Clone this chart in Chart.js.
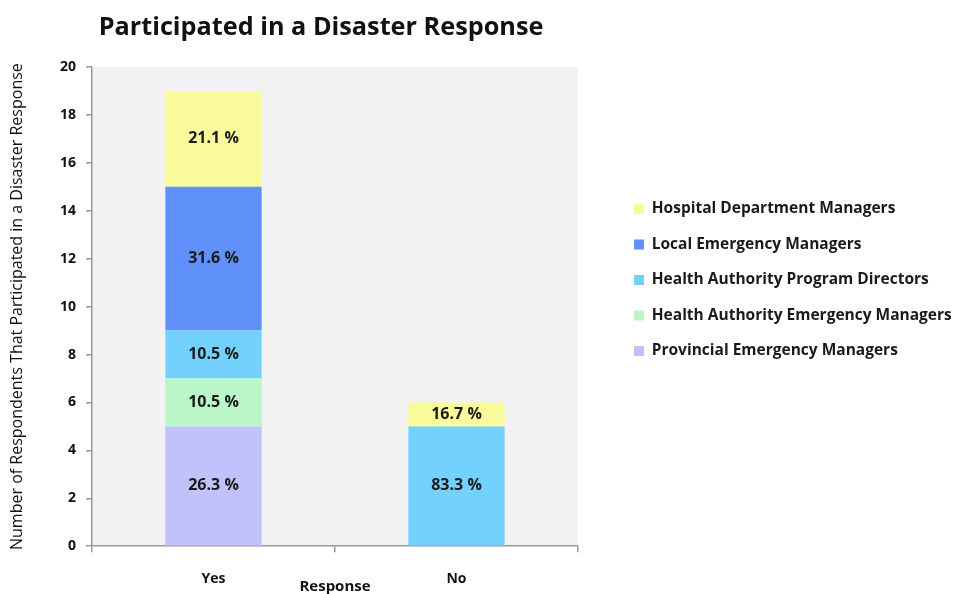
<!DOCTYPE html>
<html>
<head>
<meta charset="utf-8">
<script src="https://cdn.jsdelivr.net/npm/chart.js@4.4.1/dist/chart.umd.min.js"></script>
<style>
  html, body { margin: 0; padding: 0; background: #ffffff; }
  #wrap { width: 953px; height: 594px; }
</style>
</head>
<body>
<div id="wrap"><canvas id="chart" width="953" height="594"></canvas></div>
<script>
// Response categories on the x axis
const categories = ['Yes', 'No'];

// Respondent counts per group, one value per category (bottom of stack first)
const provincialEmergencyManagers = [5, 0];
const healthAuthorityEmergencyManagers = [2, 0];
const healthAuthorityProgramDirectors = [2, 5];
const localEmergencyManagers = [6, 0];
const hospitalDepartmentManagers = [4, 1];

const seriesNames = [
  'Provincial Emergency Managers',
  'Health Authority Emergency Managers',
  'Health Authority Program Directors',
  'Local Emergency Managers',
  'Hospital Department Managers'
];
const seriesValues = [
  provincialEmergencyManagers,
  healthAuthorityEmergencyManagers,
  healthAuthorityProgramDirectors,
  localEmergencyManagers,
  hospitalDepartmentManagers
];
const seriesColors = ['#c1c1fb', '#bbf6c9', '#72d1fd', '#6090f9', '#fafa9b'];

const yTicks = [0, 2, 4, 6, 8, 10, 12, 14, 16, 18, 20];

const FONT = '"Open Sans", "DejaVu Sans", sans-serif';
const LEGEND_FONT_SIZE = 15.5;
const LEGEND_BOX = 10;
const LEGEND_PAD = 20;
const PLOT_RIGHT = 578;      // right edge of the plotting area
const LEGEND_ITEM_X = 634;   // x of the legend colour boxes

// Totals per category, used for the percentage labels
const totals = categories.map((_, i) => seriesValues.reduce((s, arr) => s + arr[i], 0));

// Width the legend will claim, so the plot can end at PLOT_RIGHT
const measureCtx = document.createElement('canvas').getContext('2d');
measureCtx.font = 'bold ' + LEGEND_FONT_SIZE + 'px ' + FONT;
const widestLabel = Math.max(...seriesNames.map(n => measureCtx.measureText(n).width));
const legendWidth = LEGEND_PAD * 1.5 + LEGEND_BOX + LEGEND_FONT_SIZE / 2 + widestLabel;
const rightPadding = Math.max(0, 953 - PLOT_RIGHT - legendWidth);

// Light grey fill behind the plotting area
const plotBackground = {
  id: 'plotBackground',
  beforeDraw(chart) {
    const { ctx, chartArea: a } = chart;
    ctx.save();
    ctx.fillStyle = '#f2f2f2';
    ctx.fillRect(a.left, a.top, a.right - a.left, a.bottom - a.top);
    ctx.restore();
  }
};

// Percentage of the category total written in the middle of each segment
const segmentLabels = {
  id: 'segmentLabels',
  afterDatasetsDraw(chart) {
    const { ctx } = chart;
    ctx.save();
    ctx.font = 'bold 16px ' + FONT;
    ctx.fillStyle = '#1a1a1a';
    ctx.textAlign = 'center';
    ctx.textBaseline = 'middle';
    chart.data.datasets.forEach((ds, di) => {
      const meta = chart.getDatasetMeta(di);
      meta.data.forEach((bar, i) => {
        const v = ds.data[i];
        if (!v) return;
        const pct = (v / totals[i] * 100).toFixed(1) + ' %';
        ctx.fillText(pct, bar.x, (bar.y + bar.base) / 2);
      });
    });
    ctx.restore();
  }
};

// Nudge the title and legend boxes after layout
const placeBoxes = {
  id: 'placeBoxes',
  afterLayout(chart) {
    const t = chart.titleBlock;
    if (t) { t.left = 0; t.right = 642; }
    const lg = chart.legend;
    if (lg) {
      const dx = LEGEND_ITEM_X - (lg.left + LEGEND_PAD);
      const dy = -17;
      lg.left += dx; lg.right += dx;
      lg.top += dy; lg.bottom += dy;
    }
  }
};

new Chart(document.getElementById('chart'), {
  type: 'bar',
  data: {
    labels: categories,
    datasets: seriesNames.map((name, i) => ({
      label: name,
      data: seriesValues[i],
      backgroundColor: seriesColors[i],
      borderWidth: 0,
      categoryPercentage: 1,
      barPercentage: 0.396
    }))
  },
  options: {
    responsive: false,
    animation: false,
    layout: { padding: { left: 0, right: rightPadding, top: 0, bottom: 0 } },
    plugins: {
      title: {
        display: true,
        text: 'Participated in a Disaster Response',
        color: '#111111',
        font: { family: FONT, size: 25.25, weight: 'bold' },
        padding: { top: 13, bottom: 23.7 }
      },
      legend: {
        position: 'right',
        reverse: true,
        maxWidth: 600,
        labels: {
          boxWidth: LEGEND_BOX,
          boxHeight: LEGEND_BOX,
          padding: LEGEND_PAD,
          color: '#1a1a1a',
          font: { family: FONT, size: LEGEND_FONT_SIZE, weight: 'bold' }
        }
      },
      tooltip: { enabled: false }
    },
    scales: {
      x: {
        stacked: true,
        grid: {
          display: true,
          offset: true,
          drawOnChartArea: false,
          drawTicks: true,
          tickLength: 6,
          color: '#9a9a9a',
          lineWidth: 1.5
        },
        border: { display: true, color: '#9a9a9a', width: 1.5 },
        ticks: {
          color: '#111111',
          padding: 18,
          font: { family: FONT, size: 14, weight: 'bold' }
        },
        title: {
          display: true,
          text: 'Response',
          color: '#111111',
          font: { family: FONT, size: 15, weight: 'bold' },
          padding: { top: -27, bottom: -2 }
        }
      },
      y: {
        stacked: true,
        min: 0,
        max: 20,
        afterBuildTicks(scale) {
          scale.ticks = yTicks.map(v => ({ value: v }));
        },
        afterFit(scale) { scale.width = 92; },
        grid: {
          display: true,
          drawOnChartArea: false,
          drawTicks: true,
          tickLength: 6,
          color: '#9a9a9a',
          lineWidth: 1.5
        },
        border: { display: true, color: '#9a9a9a', width: 1.5 },
        ticks: {
          color: '#111111',
          padding: 10,
          font: { family: FONT, size: 14, weight: 'bold' }
        },
        title: {
          display: true,
          text: 'Number of Respondents That Participated in a Disaster Response',
          color: '#111111',
          font: { family: FONT, size: 16, weight: 'normal' },
          padding: { top: 8, bottom: 0 }
        }
      }
    }
  },
  plugins: [plotBackground, segmentLabels, placeBoxes]
});
</script>
</body>
</html>
